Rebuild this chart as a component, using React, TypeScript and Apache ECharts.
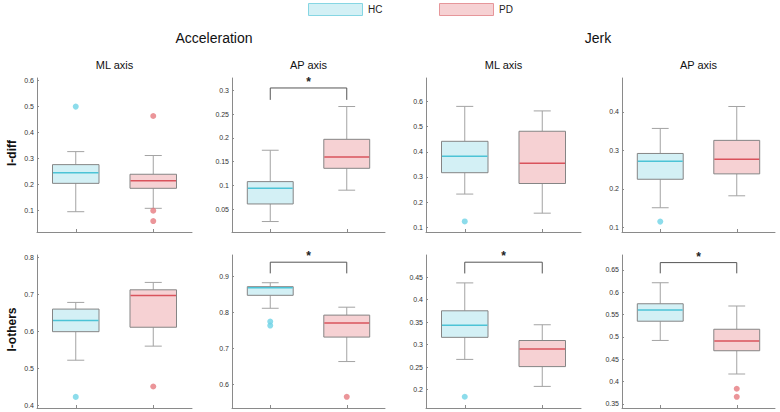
import React, { useEffect, useRef } from "react";
import * as echarts from "echarts";

// ---------- data ----------
const categories = ["HC", "PD"];
const groupTitles = ["Acceleration", "Jerk"];
const panelTitles = ["ML axis", "AP axis", "ML axis", "AP axis"];
const rowLabels = ["I-diff", "I-others"];

// [lowWhisker, Q1, median, Q3, highWhisker] per panel (row 1: panels 0-3, row 2: panels 4-7)
const hcBoxes = [
  [0.096, 0.205, 0.246, 0.277, 0.327],
  [0.024, 0.061, 0.094, 0.108, 0.174],
  [0.232, 0.317, 0.383, 0.442, 0.581],
  [0.151, 0.225, 0.272, 0.292, 0.357],
  [0.522, 0.599, 0.629, 0.66, 0.678],
  [0.812, 0.848, 0.869, 0.872, 0.883],
  [0.267, 0.316, 0.343, 0.375, 0.437],
  [0.492, 0.535, 0.56, 0.574, 0.621],
];
const pdBoxes = [
  [0.109, 0.186, 0.215, 0.24, 0.312],
  [0.09, 0.136, 0.16, 0.197, 0.266],
  [0.156, 0.274, 0.355, 0.482, 0.563],
  [0.182, 0.239, 0.277, 0.326, 0.414],
  [0.56, 0.611, 0.697, 0.712, 0.732],
  [0.664, 0.732, 0.771, 0.793, 0.815],
  [0.207, 0.251, 0.29, 0.309, 0.344],
  [0.417, 0.469, 0.491, 0.517, 0.569],
];
const hcOutliers = [[0.5], [], [0.123], [0.115], [0.423], [0.775, 0.764], [0.184], []];
const pdOutliers = [[0.464, 0.1, 0.06], [], [], [], [0.451], [0.566], [], [0.384, 0.366]];

// y-axis ranges and tick labels per panel
const yMins = [0.018, 0.002, 0.081, 0.088, 0.393, 0.535, 0.159, 0.341];
const yMaxs = [0.61, 0.326, 0.694, 0.488, 0.806, 0.96, 0.499, 0.683];
const yTicks = [
  [0.1, 0.2, 0.3, 0.4, 0.5, 0.6],
  [0.05, 0.1, 0.15, 0.2, 0.25, 0.3],
  [0.1, 0.2, 0.3, 0.4, 0.5, 0.6],
  [0.1, 0.2, 0.3, 0.4],
  [0.4, 0.5, 0.6, 0.7, 0.8],
  [0.6, 0.7, 0.8, 0.9],
  [0.2, 0.25, 0.3, 0.35, 0.4, 0.45],
  [0.35, 0.4, 0.45, 0.5, 0.55, 0.6, 0.65],
];

// significance brackets: panel index, bracket leg bottom, bracket top
const sigPanels = [1, 5, 6, 7];
const sigLow = [0.28, 0.909, 0.458, 0.642];
const sigTop = [0.305, 0.94, 0.483, 0.666];

// ---------- styles / layout ----------
const FONT = "'Liberation Sans', Arial, Helvetica, sans-serif";
const HC_FILL = "#d3f0f5";
const HC_MED = "#4cc3d6";
const HC_OUT = "#6fd3e6";
const HC_LEG_BORDER = "#86d6e3";
const PD_FILL = "#f6d1d3";
const PD_MED = "#d9535c";
const PD_OUT = "#e67a80";
const PD_LEG_BORDER = "#e6969a";
const BOX_BORDER = "#858585";
const WHISKER = "#a3a3a3";
const AXIS = "#8a8a8a";

const colLefts = [37, 232, 426, 622];
const colWidths = [155, 153, 155, 153];
const rowTops = [78, 255];
const rowHeights = [154, 153];

function makeBoxRender(fill: string, med: string) {
  return (_params: any, api: any) => {
    const c = api.value(0);
    const lo = api.coord([c, api.value(1)]);
    const q1 = api.coord([c, api.value(2)]);
    const md = api.coord([c, api.value(3)]);
    const q3 = api.coord([c, api.value(4)]);
    const hi = api.coord([c, api.value(5)]);
    const band = api.size([1, 0])[0];
    const bw = band * 0.6;
    const cw = band * 0.22;
    const x = lo[0];
    const ws = { stroke: WHISKER, lineWidth: 1 };
    return {
      type: "group",
      children: [
        { type: "line", shape: { x1: x, y1: q1[1], x2: x, y2: lo[1] }, style: ws },
        { type: "line", shape: { x1: x, y1: q3[1], x2: x, y2: hi[1] }, style: ws },
        { type: "line", shape: { x1: x - cw / 2, y1: lo[1], x2: x + cw / 2, y2: lo[1] }, style: ws },
        { type: "line", shape: { x1: x - cw / 2, y1: hi[1], x2: x + cw / 2, y2: hi[1] }, style: ws },
        {
          type: "rect",
          shape: { x: x - bw / 2, y: q3[1], width: bw, height: q1[1] - q3[1] },
          style: { fill, stroke: BOX_BORDER, lineWidth: 1 },
        },
        {
          type: "line",
          shape: { x1: x - bw / 2 + 0.5, y1: md[1], x2: x + bw / 2 - 0.5, y2: md[1] },
          style: { stroke: med, lineWidth: 1.5 },
        },
      ],
    };
  };
}

function sigRender(_params: any, api: any) {
  const a = api.coord([0, api.value(1)]);
  const b = api.coord([1, api.value(1)]);
  const t0 = api.coord([0, api.value(2)]);
  const t1 = api.coord([1, api.value(2)]);
  return {
    type: "group",
    children: [
      {
        type: "polyline",
        shape: { points: [[a[0], a[1]], [t0[0], t0[1]], [t1[0], t1[1]], [b[0], b[1]]] },
        style: { stroke: "#555", lineWidth: 1, fill: "none" },
      },
      {
        type: "text",
        x: (t0[0] + t1[0]) / 2,
        y: t0[1] - 6,
        style: {
          text: "*",
          fontSize: 12,
          fontWeight: "bold",
          fontFamily: FONT,
          fill: "#222",
          align: "center",
          verticalAlign: "middle",
        },
      },
    ],
  };
}

function buildOption() {
  const grids: any[] = [];
  const xAxes: any[] = [];
  const yAxes: any[] = [];
  const series: any[] = [];
  for (let i = 0; i < 8; i++) {
    const row = Math.floor(i / 4);
    const col = i % 4;
    grids.push({
      left: colLefts[col],
      top: rowTops[row],
      width: colWidths[col],
      height: rowHeights[row],
    });
    xAxes.push({
      type: "category",
      gridIndex: i,
      data: categories,
      axisLine: { lineStyle: { color: AXIS, width: 1 } },
      axisTick: { show: true, inside: true, length: 3, alignWithLabel: true, lineStyle: { color: AXIS } },
      axisLabel: { show: false },
      splitLine: { show: false },
    });
    yAxes.push({
      type: "value",
      gridIndex: i,
      min: yMins[i],
      max: yMaxs[i],
      axisLine: { show: true, lineStyle: { color: AXIS, width: 1 } },
      axisTick: { show: true, inside: true, length: 2, customValues: yTicks[i], lineStyle: { color: AXIS } },
      axisLabel: {
        customValues: yTicks[i],
        fontSize: 7,
        color: "#333",
        fontFamily: FONT,
        margin: 3,
        formatter: (v: number) => String(v),
      },
      splitLine: { show: false },
    });
    series.push({
      type: "custom",
      name: "HC",
      xAxisIndex: i,
      yAxisIndex: i,
      clip: false,
      renderItem: makeBoxRender(HC_FILL, HC_MED),
      encode: { x: 0, y: [1, 2, 3, 4, 5] },
      data: [[0, ...hcBoxes[i]]],
      z: 2,
    });
    series.push({
      type: "custom",
      name: "PD",
      xAxisIndex: i,
      yAxisIndex: i,
      clip: false,
      renderItem: makeBoxRender(PD_FILL, PD_MED),
      encode: { x: 0, y: [1, 2, 3, 4, 5] },
      data: [[1, ...pdBoxes[i]]],
      z: 2,
    });
    series.push({
      type: "scatter",
      xAxisIndex: i,
      yAxisIndex: i,
      symbolSize: 6,
      itemStyle: { color: HC_OUT },
      data: hcOutliers[i].map((v) => [0, v]),
      z: 3,
    });
    series.push({
      type: "scatter",
      xAxisIndex: i,
      yAxisIndex: i,
      symbolSize: 6,
      itemStyle: { color: PD_OUT },
      data: pdOutliers[i].map((v) => [1, v]),
      z: 3,
    });
  }
  sigPanels.forEach((p, k) => {
    series.push({
      type: "custom",
      xAxisIndex: p,
      yAxisIndex: p,
      clip: false,
      renderItem: sigRender,
      encode: { x: 0, y: [1, 2] },
      data: [[0, sigLow[k], sigTop[k]]],
      z: 4,
    });
  });

  const graphic: any[] = [];
  // legend
  const legX = [308, 439];
  const legFill = [HC_FILL, PD_FILL];
  const legBorder = [HC_LEG_BORDER, PD_LEG_BORDER];
  categories.forEach((c, k) => {
    graphic.push({
      type: "rect",
      left: legX[k],
      top: 3,
      shape: { width: 54, height: 12 },
      style: { fill: legFill[k], stroke: legBorder[k], lineWidth: 1 },
    });
    graphic.push({
      type: "text",
      x: legX[k] + 60,
      y: 9,
      style: { text: c, fontSize: 10, fontFamily: FONT, fill: "#222", verticalAlign: "middle" },
    });
  });
  // group titles
  const groupCenters = [214, 598];
  groupTitles.forEach((t, k) => {
    graphic.push({
      type: "text",
      x: groupCenters[k],
      y: 38,
      style: { text: t, fontSize: 14, fontFamily: FONT, fill: "#111", align: "center", verticalAlign: "middle" },
    });
  });
  // panel titles
  panelTitles.forEach((t, col) => {
    graphic.push({
      type: "text",
      x: colLefts[col] + colWidths[col] / 2,
      y: 65,
      style: { text: t, fontSize: 11, fontFamily: FONT, fill: "#111", align: "center", verticalAlign: "middle" },
    });
  });
  // row labels
  rowLabels.forEach((t, row) => {
    graphic.push({
      type: "text",
      x: 12,
      y: rowTops[row] + rowHeights[row] / 2 - 2,
      rotation: Math.PI / 2,
      style: {
        text: t,
        fontSize: 12,
        fontWeight: "bold",
        fontFamily: FONT,
        fill: "#111",
        align: "center",
        verticalAlign: "middle",
      },
    });
  });

  return {
    animation: false,
    backgroundColor: "#ffffff",
    textStyle: { fontFamily: FONT },
    grid: grids,
    xAxis: xAxes,
    yAxis: yAxes,
    series,
    graphic,
  };
}

export default function App() {
  const ref = useRef<HTMLDivElement>(null);
  useEffect(() => {
    document.body.style.margin = "0";
    const chart = echarts.init(ref.current!, null, { renderer: "svg" });
    chart.setOption(buildOption() as any);
    return () => chart.dispose();
  }, []);
  return <div ref={ref} style={{ width: 780, height: 412 }} />;
}
